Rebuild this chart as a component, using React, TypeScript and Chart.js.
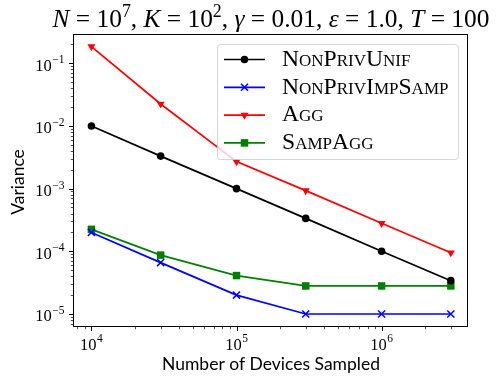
import React, { useEffect, useRef } from 'react';
import { Chart, registerables } from 'chart.js';
Chart.register(...registerables);

const devices = [1e4, 3e4, 1e5, 3e5, 1e6, 3e6];
const nonPrivUnif = [1.0e-2, 3.3e-3, 1.0e-3, 3.35e-4, 1.0e-4, 3.4e-5];
const nonPrivImpSamp = [2.0e-4, 6.6e-5, 2.0e-5, 1.0e-5, 1.0e-5, 1.0e-5];
const agg = [0.184, 0.0224, 2.7e-3, 9.3e-4, 2.8e-4, 9.5e-5];
const sampAgg = [2.24e-4, 8.7e-5, 4.1e-5, 2.8e-5, 2.8e-5, 2.8e-5];
const seriesLabels = ['NonPrivUnif', 'NonPrivImpSamp', 'Agg', 'SampAgg'];
const seriesColors = ['#000000', '#0000ff', '#ff0000', '#008000'];
const xTickExps = [4, 5, 6];
const yTickExps = [-5, -4, -3, -2, -1];
const xLimits = [7465, 3.94e6];
const yLimits = [6.2e-6, 0.293];
const xAxisLabel = 'Number of Devices Sampled';
const yAxisLabel = 'Variance';

const SERIF = '"Liberation Serif", "DejaVu Serif", serif';
const SANS = 'Lato, "DejaVu Sans", sans-serif';

type Seg = { t: string; it?: boolean; sup?: boolean };
const titleSegs: Seg[] = [
  { t: 'N', it: true }, { t: ' = 10' }, { t: '7', sup: true }, { t: ', ' },
  { t: 'K', it: true }, { t: ' = 10' }, { t: '2', sup: true }, { t: ', ' },
  { t: 'γ', it: true }, { t: ' = 0.01, ' },
  { t: 'ε', it: true }, { t: ' = 1.0, ' },
  { t: 'T', it: true }, { t: ' = 100' },
];

function drawMarker(ctx: CanvasRenderingContext2D, i: number, x: number, y: number) {
  const c = seriesColors[i];
  ctx.save();
  ctx.fillStyle = c;
  ctx.strokeStyle = c;
  ctx.lineWidth = 1;
  ctx.beginPath();
  if (i === 0) {
    ctx.arc(x, y, 3.8, 0, Math.PI * 2);
    ctx.fill();
  } else if (i === 1) {
    const r = 3.5;
    ctx.lineWidth = 1.5;
    ctx.moveTo(x - r, y - r); ctx.lineTo(x + r, y + r);
    ctx.moveTo(x + r, y - r); ctx.lineTo(x - r, y + r);
    ctx.stroke();
  } else if (i === 2) {
    const r = 4.6;
    ctx.moveTo(x, y + r);
    ctx.lineTo(x - r * 0.866, y - r * 0.5);
    ctx.lineTo(x + r * 0.866, y - r * 0.5);
    ctx.closePath();
    ctx.fill();
  } else {
    const s = 3.75;
    ctx.rect(x - s, y - s, 2 * s, 2 * s);
    ctx.fill();
  }
  ctx.restore();
}

function drawPow(ctx: CanvasRenderingContext2D, exp: number, x: number, baseline: number, align: 'center' | 'right') {
  const base = '10';
  const sup = (exp < 0 ? '\u2212' : '') + Math.abs(exp);
  ctx.font = `16.5px ${SERIF}`;
  const wb = ctx.measureText(base).width;
  ctx.font = `11.5px ${SERIF}`;
  const ws = ctx.measureText(sup).width;
  const total = wb + ws + 0.5;
  const x0 = align === 'center' ? x - total / 2 : x - total;
  ctx.textAlign = 'left';
  ctx.textBaseline = 'alphabetic';
  ctx.font = `16.5px ${SERIF}`;
  ctx.fillText(base, x0, baseline);
  ctx.font = `11.5px ${SERIF}`;
  ctx.fillText(sup, x0 + wb + 0.5, baseline - 7.5);
}

const decor = {
  id: 'decor',
  afterDraw(chart: any) {
    const ctx: CanvasRenderingContext2D = chart.ctx;
    const { left, right, top, bottom } = chart.chartArea;
    const xs = chart.scales.x;
    const ys = chart.scales.y;
    ctx.save();

    // legend
    const lx = 217, ly = 44, lw = 241, lh = 115;
    ctx.beginPath();
    (ctx as any).roundRect(lx + 0.5, ly + 0.5, lw, lh, 3);
    ctx.fillStyle = 'rgba(255,255,255,0.8)';
    ctx.fill();
    ctx.strokeStyle = 'rgba(204,204,204,0.8)';
    ctx.lineWidth = 1;
    ctx.stroke();
    let legendSize = 18;
    ctx.font = `small-caps ${legendSize}px ${SERIF}`;
    const wLong = ctx.measureText(seriesLabels[1]).width;
    legendSize = legendSize * 167 / wLong;
    ctx.font = `small-caps ${legendSize}px ${SERIF}`;
    seriesLabels.forEach((lab, i) => {
      const cy = 59.5 + i * 27.8;
      ctx.strokeStyle = seriesColors[i];
      ctx.lineWidth = 1.7;
      ctx.beginPath();
      ctx.moveTo(224, cy);
      ctx.lineTo(265, cy);
      ctx.stroke();
      drawMarker(ctx, i, 244.5, cy);
      ctx.fillStyle = '#000';
      ctx.font = `small-caps ${legendSize}px ${SERIF}`;
      ctx.textAlign = 'left';
      ctx.textBaseline = 'alphabetic';
      ctx.fillText(lab, 282, cy + 6.3);
    });

    // frame
    ctx.strokeStyle = '#000';
    ctx.lineWidth = 1;
    ctx.strokeRect(left + 0.5, top + 0.5, right - left - 1, bottom - top - 1);

    // ticks
    const [xmin, xmax] = [xs.min, xs.max];
    const [ymin, ymax] = [ys.min, ys.max];
    ctx.fillStyle = '#000';
    for (let k = 3; k <= 6; k++) {
      for (let d = 1; d <= 9; d++) {
        const v = d * Math.pow(10, k);
        if (v < xmin || v > xmax) continue;
        const px = Math.round(xs.getPixelForValue(v)) + 0.5;
        const major = d === 1;
        ctx.lineWidth = major ? 1 : 0.7;
        ctx.beginPath();
        ctx.moveTo(px, bottom);
        ctx.lineTo(px, bottom + (major ? 4 : 2.2));
        ctx.stroke();
      }
    }
    for (let k = -6; k <= -1; k++) {
      for (let d = 1; d <= 9; d++) {
        const v = d * Math.pow(10, k);
        if (v < ymin || v > ymax) continue;
        const py = Math.round(ys.getPixelForValue(v)) + 0.5;
        const major = d === 1;
        ctx.lineWidth = major ? 1 : 0.7;
        ctx.beginPath();
        ctx.moveTo(left, py);
        ctx.lineTo(left - (major ? 4 : 2.2), py);
        ctx.stroke();
      }
    }
    // tick labels
    ctx.fillStyle = '#000';
    xTickExps.forEach((e) => {
      drawPow(ctx, e, xs.getPixelForValue(Math.pow(10, e)), 349.5, 'center');
    });
    yTickExps.forEach((e) => {
      drawPow(ctx, e, left - 8.5, ys.getPixelForValue(Math.pow(10, e)) + 7.5, 'right');
    });

    // axis labels
    let fs = 18;
    ctx.font = `${fs}px ${SANS}`;
    fs = fs * 218 / ctx.measureText(xAxisLabel).width;
    ctx.font = `${fs}px ${SANS}`;
    ctx.textAlign = 'center';
    ctx.textBaseline = 'alphabetic';
    ctx.fillText(xAxisLabel, (left + right) / 2 + 0.5, 370);

    ctx.save();
    ctx.translate(23.5, 182);
    ctx.rotate(-Math.PI / 2);
    ctx.font = `${fs}px ${SANS}`;
    ctx.fillText(yAxisLabel, 0, 0);
    ctx.restore();

    // title
    let ts = 22;
    const measure = (size: number) => {
      let w = 0;
      titleSegs.forEach((s) => {
        const sz = s.sup ? size * 0.7 : size;
        ctx.font = `${s.it ? 'italic ' : ''}${sz}px ${SERIF}`;
        w += ctx.measureText(s.t).width;
      });
      return w;
    };
    ts = ts * 437 / measure(ts);
    let tx = 52.5;
    ctx.textAlign = 'left';
    ctx.textBaseline = 'alphabetic';
    titleSegs.forEach((s) => {
      const sz = s.sup ? ts * 0.7 : ts;
      ctx.font = `${s.it ? 'italic ' : ''}${sz}px ${SERIF}`;
      ctx.fillText(s.t, tx, s.sup ? 27 - ts * 0.4 : 27);
      tx += ctx.measureText(s.t).width;
    });

    ctx.restore();
  },
};

export default function App() {
  const ref = useRef<HTMLCanvasElement | null>(null);
  useEffect(() => {
    if (!ref.current) return;
    const mk = (vals: number[]) => devices.map((x, i) => ({ x, y: vals[i] }));
    const chart = new Chart(ref.current, {
      type: 'line',
      data: {
        datasets: [
          {
            label: seriesLabels[0], data: mk(nonPrivUnif),
            borderColor: seriesColors[0], backgroundColor: seriesColors[0],
            borderWidth: 1.7, pointStyle: 'circle', pointRadius: 3.8, pointBorderWidth: 0,
          },
          {
            label: seriesLabels[1], data: mk(nonPrivImpSamp),
            borderColor: seriesColors[1], backgroundColor: seriesColors[1],
            borderWidth: 1.7, pointStyle: 'crossRot', pointRadius: 5, pointBorderWidth: 1.5,
          },
          {
            label: seriesLabels[2], data: mk(agg),
            borderColor: seriesColors[2], backgroundColor: seriesColors[2],
            borderWidth: 1.7, pointStyle: 'triangle', pointRotation: 180, pointRadius: 4.6, pointBorderWidth: 0,
          },
          {
            label: seriesLabels[3], data: mk(sampAgg),
            borderColor: seriesColors[3], backgroundColor: seriesColors[3],
            borderWidth: 1.7, pointStyle: 'rect', pointRadius: 5.3, pointBorderWidth: 0,
          },
        ],
      },
      options: {
        responsive: false,
        animation: false,
        devicePixelRatio: 1,
        layout: { padding: { left: 73, top: 34, right: 30, bottom: 56 } },
        scales: {
          x: { type: 'logarithmic', min: xLimits[0], max: xLimits[1], display: false },
          y: { type: 'logarithmic', min: yLimits[0], max: yLimits[1], display: false },
        },
        plugins: { legend: { display: false }, title: { display: false }, tooltip: { enabled: false } },
        elements: { line: { tension: 0 } },
      },
      plugins: [decor],
    });
    return () => chart.destroy();
  }, []);
  return (
    <div style={{ position: 'fixed', left: 0, top: 0, width: 498, height: 383, background: '#fff' }}>
      <canvas ref={ref} width={498} height={383} />
    </div>
  );
}
